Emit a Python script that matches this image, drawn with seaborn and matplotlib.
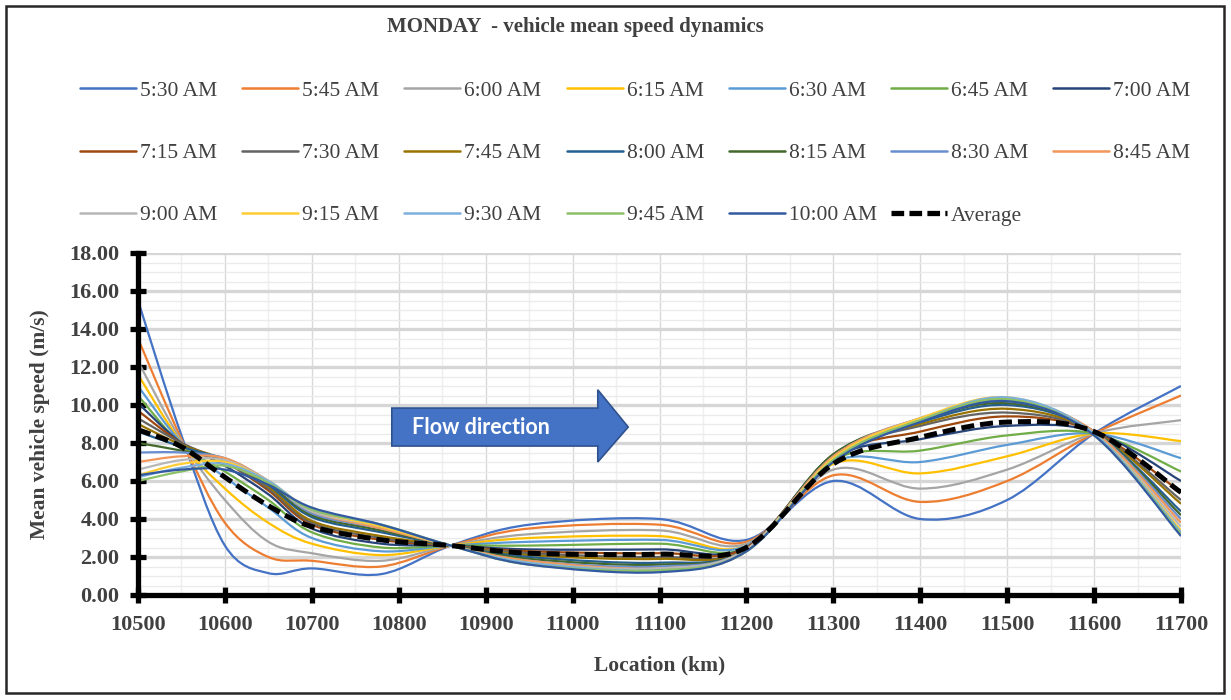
import numpy as np
import matplotlib
matplotlib.use("Agg")
import matplotlib.pyplot as plt
from matplotlib.path import Path
from matplotlib.patches import PathPatch, Polygon, Rectangle
from matplotlib.lines import Line2D
from matplotlib.ticker import MultipleLocator, FormatStrFormatter
import seaborn as sns

# location of the measuring points (km)
location = [10500, 10550, 10600, 10650, 10700, 10780, 10860, 10950,
            11100, 11200, 11300, 11400, 11500, 11600, 11700]

times = ["5:30 AM", "5:45 AM", "6:00 AM", "6:15 AM", "6:30 AM", "6:45 AM", "7:00 AM",
         "7:15 AM", "7:30 AM", "7:45 AM", "8:00 AM", "8:15 AM", "8:30 AM", "8:45 AM",
         "9:00 AM", "9:15 AM", "9:30 AM", "9:45 AM", "10:00 AM"]

# mean speed (m/s) per time slot
s_0530 = [15.5, 8.4, 2.6, 1.15, 1.4, 1.1, 2.6, 3.7, 4.0, 2.9, 6.0, 4.0, 5.0, 8.5, 11.0]
s_0545 = [13.5, 8.2, 3.8, 2.0, 1.8, 1.5, 2.6, 3.5, 3.7, 2.8, 6.3, 4.9, 6.0, 8.5, 10.5]
s_0600 = [12.3, 8.1, 5.0, 2.8, 2.2, 1.8, 2.6, 3.2, 3.4, 2.7, 6.6, 5.6, 6.6, 8.5, 9.2]
s_0615 = [11.6, 8.0, 5.6, 3.8, 2.7, 2.1, 2.6, 3.0, 3.1, 2.6, 6.9, 6.4, 7.3, 8.5, 8.1]
s_0630 = [11.0, 8.0, 6.2, 4.6, 3.0, 2.3, 2.6, 2.8, 2.9, 2.6, 7.0, 7.0, 7.9, 8.5, 7.2]
s_0645 = [10.5, 7.9, 6.5, 5.0, 3.3, 2.5, 2.6, 2.6, 2.7, 2.5, 7.1, 7.6, 8.4, 8.5, 6.5]
s_0700 = [10.1, 8.0, 6.8, 5.3, 3.5, 2.7, 2.6, 2.4, 2.4, 2.5, 7.2, 8.2, 8.9, 8.6, 6.0]
s_0715 = [9.7, 8.0, 7.0, 5.5, 3.7, 2.9, 2.6, 2.3, 2.2, 2.5, 7.3, 8.6, 9.4, 8.6, 5.4]
s_0730 = [9.3, 8.0, 7.0, 5.6, 3.8, 3.0, 2.6, 2.2, 2.0, 2.4, 7.3, 8.9, 9.6, 8.6, 5.0]
s_0745 = [9.0, 7.9, 7.1, 5.7, 3.9, 3.1, 2.6, 2.1, 1.9, 2.4, 7.4, 9.0, 9.8, 8.6, 4.8]
s_0800 = [8.6, 7.8, 7.1, 5.8, 4.1, 3.3, 2.6, 2.0, 1.7, 2.4, 7.4, 9.1, 10.0, 8.6, 4.4]
s_0815 = [8.0, 7.6, 7.1, 5.9, 4.2, 3.4, 2.6, 1.9, 1.6, 2.4, 7.4, 9.2, 10.1, 8.6, 4.2]
s_0830 = [7.5, 7.5, 7.2, 6.0, 4.3, 3.5, 2.6, 1.8, 1.5, 2.4, 7.3, 9.3, 10.2, 8.6, 4.0]
s_0845 = [7.0, 7.3, 7.2, 6.0, 4.4, 3.5, 2.6, 1.8, 1.4, 2.4, 7.3, 9.3, 10.3, 8.6, 3.8]
s_0900 = [6.6, 7.1, 7.1, 6.0, 4.4, 3.6, 2.6, 1.7, 1.4, 2.4, 7.2, 9.3, 10.3, 8.5, 3.6]
s_0915 = [6.3, 6.9, 7.0, 6.0, 4.5, 3.6, 2.6, 1.7, 1.3, 2.3, 7.2, 9.3, 10.4, 8.5, 3.4]
s_0930 = [6.2, 6.7, 6.9, 6.0, 4.5, 3.7, 2.6, 1.7, 1.3, 2.3, 7.1, 9.2, 10.4, 8.5, 3.3]
s_0945 = [6.0, 6.5, 6.8, 5.9, 4.5, 3.7, 2.6, 1.6, 1.3, 2.3, 7.1, 9.2, 10.3, 8.4, 3.2]
s_1000 = [6.3, 6.6, 6.6, 5.8, 4.6, 3.7, 2.6, 1.6, 1.2, 2.3, 7.0, 9.1, 10.2, 8.4, 3.1]
average = [8.7, 7.8, 6.2, 4.7, 3.6, 2.9, 2.6, 2.2, 2.15, 2.5, 6.9, 8.3, 9.1, 8.6, 5.4]

series = [s_0530, s_0545, s_0600, s_0615, s_0630, s_0645, s_0700, s_0715, s_0730, s_0745,
          s_0800, s_0815, s_0830, s_0845, s_0900, s_0915, s_0930, s_0945, s_1000]

# office-like palette
colors = ["#4472C4", "#ED7D31", "#A5A5A5", "#FFC000", "#5B9BD5", "#70AD47",
          "#264478", "#9E480E", "#636363", "#997300", "#255E91", "#43682B",
          "#698ED0", "#F1975A", "#B7B7B7", "#FFCD33", "#7CAFDD", "#8CC168", "#335AA1"]

sns.set_style("white")
plt.rcParams['font.family'] = ['Liberation Serif', 'DejaVu Serif']
txt = "#404040"


def smooth_path(x, y):
    # excel style smoothed line: bezier segments, tangents from neighbours
    pts = np.column_stack([x, y]).astype(float)
    n = len(pts)
    verts = [pts[0]]
    codes = [Path.MOVETO]
    for i in range(n - 1):
        p0 = pts[i - 1] if i > 0 else pts[i]
        p1, p2 = pts[i], pts[i + 1]
        p3 = pts[i + 2] if i + 2 < n else pts[i + 1]
        verts += [p1 + (p2 - p0) / 6, p2 - (p3 - p1) / 6, p2]
        codes += [Path.CURVE4] * 3
    return Path(verts, codes)


fig = plt.figure(figsize=(12.31, 7.0), dpi=100)
W, H = 1231, 700
ax = fig.add_axes([138 / W, 1 - 595 / H, (1181 - 138) / W, (595 - 253) / H])

for vals, c in zip(series, colors):
    ax.add_patch(PathPatch(smooth_path(location, vals), facecolor="none",
                           edgecolor=c, lw=1.6, zorder=3))
ax.add_patch(PathPatch(smooth_path(location, average), facecolor="none", edgecolor="black",
                       lw=3.6, linestyle=(0, (2.6, 1.2)), capstyle="butt", zorder=4))

ax.set_xlim(10500, 11700)
ax.set_ylim(0, 18)
ax.xaxis.set_major_locator(MultipleLocator(100))
ax.xaxis.set_minor_locator(MultipleLocator(50))
ax.yaxis.set_major_locator(MultipleLocator(2))
ax.yaxis.set_minor_locator(MultipleLocator(0.5))
ax.yaxis.set_major_formatter(FormatStrFormatter("%.2f"))

ax.grid(which="major", axis="y", color="#D6D6D6", lw=2.4, zorder=0)
ax.grid(which="minor", axis="y", color="#EBEBEB", lw=1.0, zorder=0)
ax.grid(which="major", axis="x", color="#D9D9D9", lw=1.0, zorder=0)
ax.grid(which="minor", axis="x", color="#EFEFEF", lw=1.0, zorder=0)
ax.set_axisbelow(True)

for side in ["top", "right"]:
    ax.spines[side].set_visible(False)
for side in ["left", "bottom"]:
    ax.spines[side].set_linewidth(3.8)
    ax.spines[side].set_color("black")
    ax.spines[side].set_zorder(5)
ax.tick_params(which="major", bottom=True, left=True, direction="inout", length=11,
               width=3.8, color="black", labelsize=16, labelcolor=txt)
ax.tick_params(axis="x", which="major", pad=9)
ax.tick_params(axis="y", which="major", pad=8)
ax.tick_params(which="minor", length=0)
for lab in ax.get_xticklabels() + ax.get_yticklabels():
    lab.set_fontweight("bold")

ax.set_xlabel("Location (km)", fontsize=15.5, fontweight="bold", color=txt, labelpad=15)
ax.set_ylabel("Mean vehicle speed (m/s)", fontsize=15.5, fontweight="bold", color=txt, labelpad=14)

# flow direction arrow
arrow = Polygon([(10792, 9.84), (11029, 9.84), (11029, 10.8), (11064, 8.84),
                 (11029, 7.0), (11029, 7.84), (10792, 7.84)], closed=True,
                facecolor="#4472C4", edgecolor="#2F528F", lw=1.2, zorder=6)
ax.add_patch(arrow)
ax.text(10895, 8.84, "Flow direction", family=["Lato", "DejaVu Sans"], fontweight="bold",
        fontsize=15.5, color="white", ha="center", va="center", zorder=7)

# title
fig.text(575 / W, 1 - 27 / H, "MONDAY  - vehicle mean speed dynamics", ha="center", va="center",
         fontsize=15, fontweight="bold", color=txt)

# legend, row-wise like the original
labels = times + ["Average"]
for i, lab in enumerate(labels):
    row, col = divmod(i, 7)
    x0 = (80 + col * 162.2) / W
    y0 = 1 - (88 + row * 62.5) / H
    if lab == "Average":
        fig.add_artist(Line2D([x0, x0 + 56 / W], [y0, y0], color="black", lw=3.8,
                              linestyle=(0, (2.4, 1.0)), solid_capstyle="butt"))
    else:
        fig.add_artist(Line2D([x0, x0 + 56 / W], [y0, y0], color=colors[i], lw=1.8))
    fig.text(x0 + 60 / W, y0 - 3 / H, lab, ha="left", va="center", fontsize=15.5, color=txt)

# outer frame
fig.add_artist(Rectangle((6 / W, 7 / H), 1218 / W, 687 / H, transform=fig.transFigure,
                         fill=False, edgecolor="#262626", lw=1.8))

fig.savefig("out.png", dpi=100)
